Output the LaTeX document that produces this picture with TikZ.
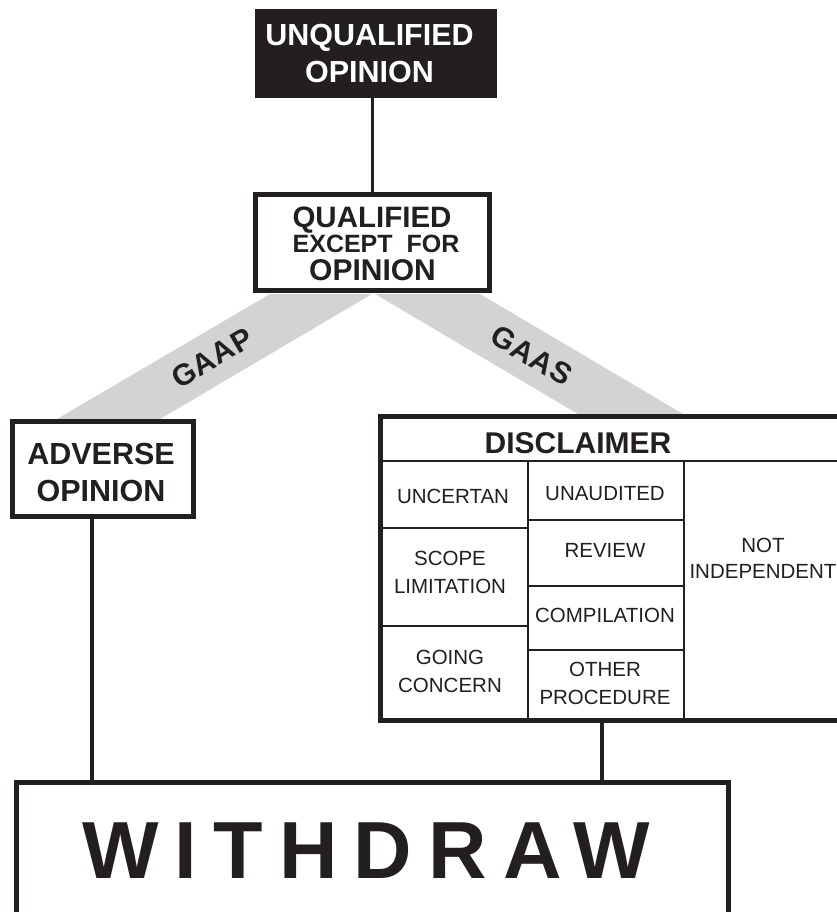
\documentclass[tikz,border=0pt]{standalone}
\usepackage{fontspec}
\setmainfont{Liberation Sans}
\newfontfamily\wdfont[LetterSpace=20]{Liberation Sans}
\newfontfamily\bandfont[LetterSpace=2]{Liberation Sans}
\definecolor{ink}{HTML}{231F20}
\definecolor{bandgray}{HTML}{D1D3D4}
\begin{document}
\begin{tikzpicture}[x=1pt,y=-1pt,
  box/.style={draw=ink,line width=5pt,inner sep=0pt,fill=white},
  conn/.style={draw=ink,line width=3.5pt},
  cell/.style={draw=ink,line width=2.5pt},
  txt/.style={inner sep=0pt,text=ink},
  hd/.style={txt,font=\bfseries\fontsize{30}{37}\selectfont},
  cl/.style={txt,align=center,font=\fontsize{20.5}{28}\selectfont},
  bandtxt/.style={txt,font=\bandfont\bfseries\fontsize{30}{30}\selectfont}]
\useasboundingbox (0,0) rectangle (837,912);
% grey bands
\fill[bandgray] (270,294) -- (372,294) -- (160,419) -- (57,419) -- cycle;
\fill[bandgray] (375,294) -- (480,294) -- (683,414) -- (578,414) -- cycle;
% boxes
\node[inner sep=0pt,fill=ink,minimum width=242pt,minimum height=89pt] (top) at (376,53.5) {};
\node[box,minimum width=234pt,minimum height=96pt] (qual) at (372.5,242.5) {};
\node[box,minimum width=181pt,minimum height=95pt] (adv) at (103,469) {};
\node[box,minimum width=464.5pt,minimum height=304pt] (disc) at (612.75,568.5) {};
\node[box,minimum width=712pt,minimum height=147.5pt] (wd) at (372.5,856.25) {};
% connectors
\draw[conn] (qual.north) -- (qual.north |- top.south);
\draw[conn] ([xshift=-11pt]adv.south) -- ([xshift=-11pt]adv.south |- wd.north);
\draw[conn] ([xshift=-10.75pt]disc.south) -- ([xshift=-10.75pt]disc.south |- wd.north);
% table grid
\draw[cell] (380.5,461) -- (845,461);
\draw[cell] (528,461) -- (528,720.5);
\draw[cell] (684,461) -- (684,720.5);
\draw[cell] (380.5,528) -- (528,528);
\draw[cell] (380.5,626) -- (528,626);
\draw[cell] (528,520) -- (684,520);
\draw[cell] (528,586) -- (684,586);
\draw[cell] (528,650) -- (684,650);
% texts
\node[hd,text=white,align=center,font=\bfseries\fontsize{30.5}{37}\selectfont] (toptxt) at (369.5,53.5) {UNQUALIFIED\\OPINION};
\node[hd,anchor=base,font=\bfseries\fontsize{29.5}{30}\selectfont] (q1) at (372,227) {QUALIFIED};
\node[hd,anchor=base,font=\bfseries\fontsize{25}{30}\selectfont] (q2) at (376,252) {EXCEPT\ \ FOR};
\node[hd,anchor=base,font=\bfseries\fontsize{30}{30}\selectfont] (q3) at (372.5,280) {OPINION};
\node[hd,align=center,font=\bfseries\fontsize{30.5}{37}\selectfont] (advtxt) at (101,472) {ADVERSE\\OPINION};
\node[hd,anchor=base] (disctxt) at (578,453) {DISCLAIMER};
\node[cl,anchor=base] (c1) at (453,503) {UNCERTAN};
\node[cl] (c2) at (450,572.5) {SCOPE\\LIMITATION};
\node[cl] (c3) at (450,671.5) {GOING\\CONCERN};
\node[cl,anchor=base] (c4) at (605,500) {UNAUDITED};
\node[cl,anchor=base] (c5) at (605,557) {REVIEW};
\node[cl,anchor=base] (c6) at (605,622) {COMPILATION};
\node[cl] (c7) at (605,683.5) {OTHER\\PROCEDURE};
\node[cl,font=\fontsize{20.5}{26}\selectfont] (c8) at (763,558.5) {NOT\\INDEPENDENT};
\node[bandtxt,rotate=30.3] (gaap) at (212,358) {GAAP};
\node[bandtxt,rotate=-30.6] (gaas) at (531.5,355.5) {GAAS};
\node[txt,anchor=base west,font=\wdfont\bfseries\fontsize{81}{90}\selectfont] (wdtxt) at (82,878) {WITHDRAW};
\end{tikzpicture}
\end{document}
